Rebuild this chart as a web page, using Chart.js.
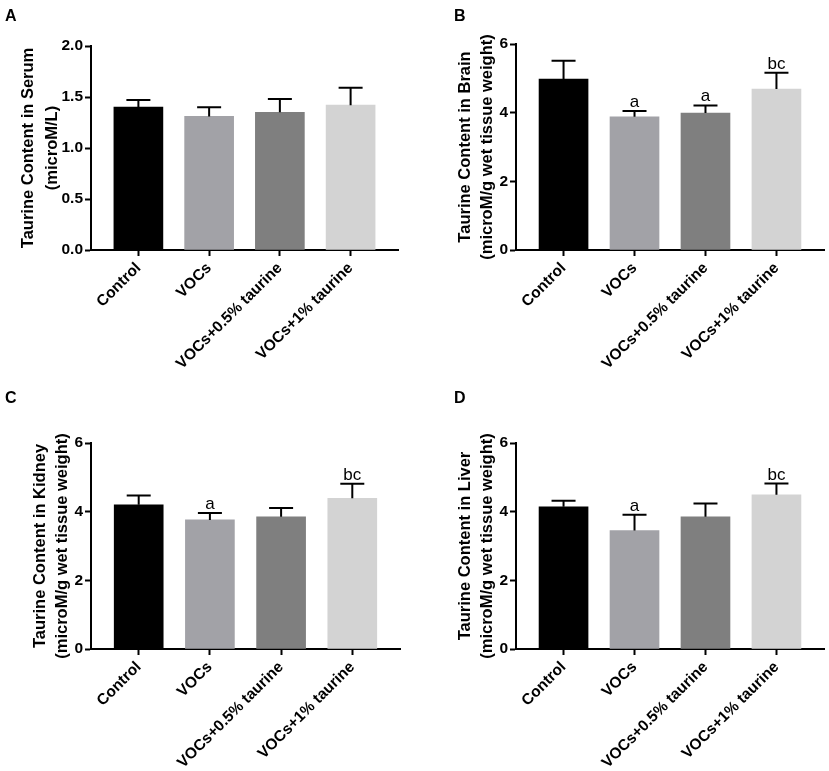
<!DOCTYPE html>
<html>
<head>
<meta charset="utf-8">
<script src="https://cdn.jsdelivr.net/npm/chart.js@4.4.0/dist/chart.umd.min.js"></script>
<style>
  body { margin: 0; background: #fff; }
  #wrap { position: relative; width: 829px; height: 771px; }
  #wrap canvas { position: absolute; }
  .tag { position: absolute; font: bold 16px "Liberation Sans", Arial, sans-serif; color: #000; line-height: 1; }
</style>
</head>
<body>
<div id="wrap">
  <canvas id="cA" width="415" height="385" style="left:0;top:0"></canvas>
  <canvas id="cB" width="414" height="385" style="left:415px;top:0"></canvas>
  <canvas id="cC" width="415" height="386" style="left:0;top:385px"></canvas>
  <canvas id="cD" width="414" height="386" style="left:415px;top:385px"></canvas>
  <div class="tag" style="left:5px;top:8px">A</div>
  <div class="tag" style="left:454px;top:8px">B</div>
  <div class="tag" style="left:5px;top:390px">C</div>
  <div class="tag" style="left:454px;top:390px">D</div>
</div>
<script>
var FONT = '"Liberation Sans", Arial, sans-serif';

// groups and bar fills
var groups = ["Control", "VOCs", "VOCs+0.5% taurine", "VOCs+1% taurine"];
var barColors = ["#000000", "#a2a2a7", "#7f7f7f", "#d3d3d3"];

// A - serum
var serumMean = [1.40, 1.31, 1.35, 1.42];
var serumErr = [0.07, 0.09, 0.13, 0.17];
var serumSig = ["", "", "", ""];

// B - brain
var brainMean = [4.98, 3.88, 3.99, 4.69];
var brainErr = [0.53, 0.17, 0.22, 0.47];
var brainSig = ["", "a", "a", "bc"];

// C - kidney
var kidneyMean = [4.20, 3.76, 3.85, 4.39];
var kidneyErr = [0.27, 0.20, 0.26, 0.42];
var kidneySig = ["", "a", "", "bc"];

// D - liver
var liverMean = [4.14, 3.45, 3.85, 4.49];
var liverErr = [0.18, 0.46, 0.39, 0.33];
var liverSig = ["", "a", "", "bc"];

// error bars (upper only) + significance letters
function errorBars(mean, err, sig) {
  return {
    id: 'errorBars',
    afterDatasetsDraw: function(chart) {
      var ctx = chart.ctx, xs = chart.scales.x, ys = chart.scales.y;
      ctx.save();
      ctx.strokeStyle = '#000';
      ctx.fillStyle = '#000';
      ctx.lineWidth = 2;
      ctx.font = '17px ' + FONT;
      ctx.textAlign = 'center';
      ctx.textBaseline = 'alphabetic';
      for (var i = 0; i < mean.length; i++) {
        var x = xs.getPixelForValue(i + 1);
        var y0 = ys.getPixelForValue(mean[i]);
        var y1 = ys.getPixelForValue(mean[i] + err[i]);
        ctx.beginPath();
        ctx.moveTo(x, y0);
        ctx.lineTo(x, y1);
        ctx.moveTo(x - 12, y1);
        ctx.lineTo(x + 12, y1);
        ctx.stroke();
        if (sig[i]) ctx.fillText(sig[i], x, y1 - 4);
      }
      ctx.restore();
    }
  };
}

function makePanel(id, mean, err, sig, yMax, yStep, decimals, title, box) {
  new Chart(document.getElementById(id), {
    type: 'bar',
    data: {
      datasets: [{
        data: mean.map(function(v, i) { return {x: i + 1, y: v}; }),
        backgroundColor: barColors,
        borderWidth: 0,
        barThickness: 49
      }]
    },
    options: {
      responsive: false,
      animation: false,
      layout: { padding: { left: 0, top: box.top, right: box.right, bottom: 0 } },
      plugins: { legend: { display: false }, tooltip: { enabled: false } },
      scales: {
        x: {
          type: 'linear',
          min: 0.33,
          max: 4.67,
          offset: false,
          z: 1,
          afterBuildTicks: function(s) {
            s.ticks = groups.map(function(g, i) { return {value: i + 1}; });
          },
          afterFit: function(s) { s.height = box.bottom; },
          grid: { offset: false, drawOnChartArea: false, drawTicks: true, tickLength: 6, tickWidth: 2, tickColor: '#000' },
          border: { display: true, color: '#000', width: 2 },
          ticks: {
            autoSkip: false,
            minRotation: 45,
            maxRotation: 45,
            padding: 3,
            color: '#000',
            font: { family: FONT, size: 15.5, weight: 'bold' },
            callback: function(v) { return groups[v - 1]; }
          }
        },
        y: {
          min: 0,
          max: yMax,
          z: 1,
          afterFit: function(s) { s.width = box.left; },
          grid: { drawOnChartArea: false, drawTicks: true, tickLength: 6, tickWidth: 2, tickColor: '#000' },
          border: { display: true, color: '#000', width: 2 },
          ticks: {
            stepSize: yStep,
            padding: 2,
            color: '#000',
            font: { family: FONT, size: 15.5, weight: 'bold' },
            callback: function(v) { return v.toFixed(decimals); }
          },
          title: {
            display: true,
            text: title,
            color: '#000',
            font: { family: FONT, size: 16.5, weight: 'bold', lineHeight: box.lh / 16.5 },
            padding: { top: box.tpad, bottom: 0 }
          }
        }
      }
    },
    plugins: [errorBars(mean, err, sig)]
  });
}

makePanel('cA', serumMean, serumErr, serumSig, 2, 0.5, 1,
  ["Taurine Content in Serum", "(microM/L)"],
  { left: 91, top: 46, right: 17, bottom: 135, lh: 24, tpad: 16.5 });

makePanel('cB', brainMean, brainErr, brainSig, 6, 2, 0,
  ["Taurine Content in Brain", "(microM/g wet tissue weight)"],
  { left: 101, top: 44, right: 5, bottom: 135, lh: 22, tpad: 39 });

makePanel('cC', kidneyMean, kidneyErr, kidneySig, 6, 2, 0,
  ["Taurine Content in Kidney", "(microM/g wet tissue weight)"],
  { left: 91, top: 58, right: 15, bottom: 122, lh: 22, tpad: 29 });

makePanel('cD', liverMean, liverErr, liverSig, 6, 2, 0,
  ["Taurine Content in Liver", "(microM/g wet tissue weight)"],
  { left: 101, top: 58, right: 5, bottom: 122, lh: 22, tpad: 39 });
</script>
</body>
</html>
